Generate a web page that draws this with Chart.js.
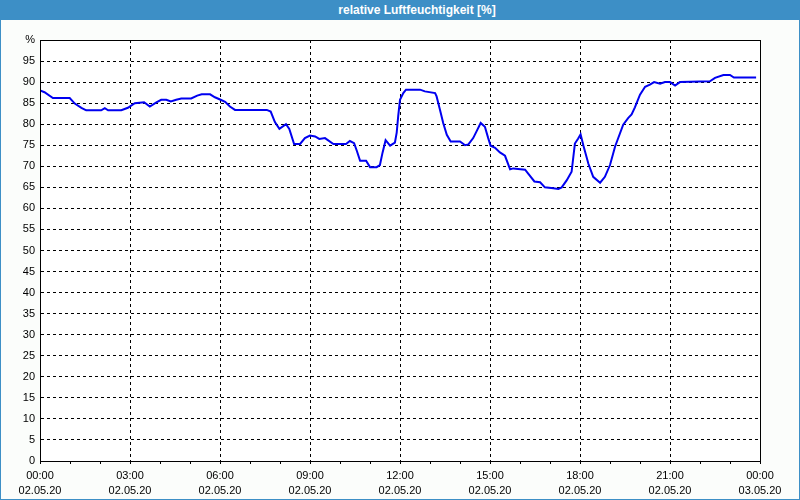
<!DOCTYPE html>
<html>
<head>
<meta charset="utf-8">
<script src="https://cdn.jsdelivr.net/npm/chart.js@4.4.0/dist/chart.umd.min.js"></script>
<style>
  html, body { margin: 0; padding: 0; background: #fbfdfb; }
  #wrap { position: relative; width: 800px; height: 500px; }
  #header {
    position: absolute; left: 0; top: 0; width: 800px; height: 20px;
    background: #3d8fc6; color: #fff; text-align: center;
    font: bold 12px 'Liberation Sans', sans-serif; line-height: 20px;
    box-sizing: border-box; padding-left: 34px;
  }
  #border {
    position: absolute; left: 0; top: 0; width: 800px; height: 500px;
    box-sizing: border-box; border: 1px solid #3d8fc6; pointer-events: none;
  }
  canvas { position: absolute; left: 0; top: 0; }
</style>
</head>
<body>
<div id="wrap">
  <canvas id="humChart" width="800" height="500"></canvas>
  <div id="header">relative Luftfeuchtigkeit [%]</div>
  <div id="border"></div>
</div>
<script>
// Stunden seit 02.05.20 00:00
const times = [
    0.00, 0.15, 0.43, 0.99, 1.16, 1.38, 1.54, 2.04, 2.16, 2.27,
    2.71, 2.93, 3.16, 3.47, 3.66, 3.88, 4.04, 4.21, 4.36, 4.54,
    4.71, 5.04, 5.24, 5.39, 5.67, 5.83, 6.02, 6.17, 6.33, 6.50,
    7.56, 7.69, 7.83, 7.98, 8.20, 8.31, 8.47, 8.67, 8.83, 9.00,
    9.17, 9.31, 9.50, 9.78, 10.20, 10.33, 10.47, 10.56, 10.67, 10.87,
    11.00, 11.22, 11.33, 11.42, 11.52, 11.67, 11.83, 11.89, 11.94, 12.00,
    12.11, 12.20, 12.67, 12.83, 13.17, 13.22, 13.33, 13.44, 13.56, 13.69,
    14.00, 14.17, 14.28, 14.44, 14.58, 14.69, 14.83, 14.94, 15.02, 15.17,
    15.33, 15.50, 15.67, 15.78, 16.17, 16.28, 16.48, 16.67, 16.83, 17.11,
    17.28, 17.39, 17.56, 17.72, 17.83, 17.94, 18.02, 18.11, 18.28, 18.44,
    18.67, 18.83, 19.00, 19.17, 19.44, 19.61, 19.72, 19.83, 20.00, 20.17,
    20.33, 20.47, 20.67, 20.83, 21.00, 21.17, 21.33, 22.33, 22.50, 22.78,
    23.00, 23.13, 23.87
];
const humidity = [
    88.0, 87.6, 86.2, 86.2, 84.9, 83.9, 83.3, 83.3, 83.8, 83.3,
    83.3, 83.9, 85.0, 85.2, 84.2, 85.2, 85.8, 85.8, 85.4, 85.8,
    86.1, 86.1, 86.8, 87.1, 87.1, 86.4, 85.8, 85.3, 84.2, 83.4,
    83.4, 83.0, 80.5, 78.9, 80.0, 78.9, 75.3, 75.3, 76.7, 77.3,
    77.1, 76.5, 76.7, 75.3, 75.3, 76.0, 75.5, 73.7, 71.3, 71.3,
    69.8, 69.8, 70.3, 73.3, 76.2, 74.9, 75.6, 78.0, 81.9, 85.8,
    87.4, 88.2, 88.2, 87.8, 87.4, 86.6, 83.5, 80.3, 77.5, 75.9,
    75.9, 75.0, 75.2, 76.7, 78.7, 80.3, 79.4, 76.7, 74.9, 74.4,
    73.3, 72.5, 69.3, 69.5, 69.2, 68.2, 66.4, 66.2, 65.0, 64.8,
    64.6, 65.0, 66.7, 68.7, 75.4, 76.6, 77.6, 75.0, 70.6, 67.5,
    66.1, 67.5, 70.3, 74.7, 79.9, 81.5, 82.3, 84.0, 87.0, 88.9,
    89.4, 90.0, 89.6, 90.0, 90.0, 89.2, 90.0, 90.2, 91.0, 91.7,
    91.7, 91.1, 91.1
];
const timeLabels = ['00:00', '03:00', '06:00', '09:00', '12:00', '15:00', '18:00', '21:00', '00:00'];
const dateLabels = ['02.05.20', '02.05.20', '02.05.20', '02.05.20', '02.05.20', '02.05.20', '02.05.20', '02.05.20', '03.05.20'];
const yTopLabel = '%';

const tickFont = { family: 'Liberation Sans', size: 11, lineHeight: 15 / 11 };

// Rahmen um die Zeichenfläche
const framePlugin = {
    id: 'frame',
    beforeDraw(chart) {
        const { ctx, chartArea: a } = chart;
        ctx.save();
        ctx.fillStyle = '#ffffff';
        ctx.fillRect(a.left, a.top, a.right - a.left, a.bottom - a.top);
        ctx.restore();
    },
    afterDraw(chart) {
        const { ctx, chartArea: a } = chart;
        ctx.save();
        ctx.strokeStyle = '#000';
        ctx.lineWidth = 1;
        ctx.strokeRect(a.left + 0.5, a.top + 0.5, a.right - a.left, a.bottom - a.top);
        ctx.restore();
    }
};

new Chart(document.getElementById('humChart'), {
    type: 'line',
    data: {
        datasets: [{
            data: times.map((t, i) => ({ x: t, y: humidity[i] })),
            borderColor: '#0000f0',
            borderWidth: 2,
            pointRadius: 0,
            tension: 0,
            fill: false
        }]
    },
    options: {
        responsive: false,
        animation: false,
        devicePixelRatio: 1,
        layout: { padding: { top: 40, right: 40, left: 0, bottom: 0 } },
        plugins: {
            legend: { display: false },
            tooltip: { enabled: false }
        },
        scales: {
            x: {
                type: 'linear',
                min: 0,
                max: 24,
                afterFit: s => { s.height = 39; },
                border: { display: true, color: '#000', dash: [3, 3] },
                grid: {
                    color: c => (c.tick && c.tick.value % 3 === 0 && c.tick.value > 0 && c.tick.value < 24) ? '#000' : 'rgba(0,0,0,0)',
                    tickColor: '#000',
                    tickLength: 3,
                    lineWidth: 1
                },
                ticks: {
                    stepSize: 1,
                    autoSkip: false,
                    maxRotation: 0,
                    padding: 4,
                    color: '#000',
                    font: tickFont,
                    callback: v => v % 3 === 0 ? [timeLabels[v / 3], dateLabels[v / 3]] : ''
                }
            },
            y: {
                min: 0,
                max: 100,
                afterFit: s => { s.width = 40; },
                border: { display: true, color: '#000', dash: [3, 3] },
                grid: {
                    color: c => (c.tick && c.tick.value > 0 && c.tick.value < 100) ? '#000' : 'rgba(0,0,0,0)',
                    drawTicks: false,
                    lineWidth: 1
                },
                ticks: {
                    stepSize: 5,
                    padding: 5,
                    color: '#000',
                    font: tickFont,
                    callback: v => v === 100 ? yTopLabel : v
                }
            }
        }
    },
    plugins: [framePlugin]
});
</script>
</body>
</html>
